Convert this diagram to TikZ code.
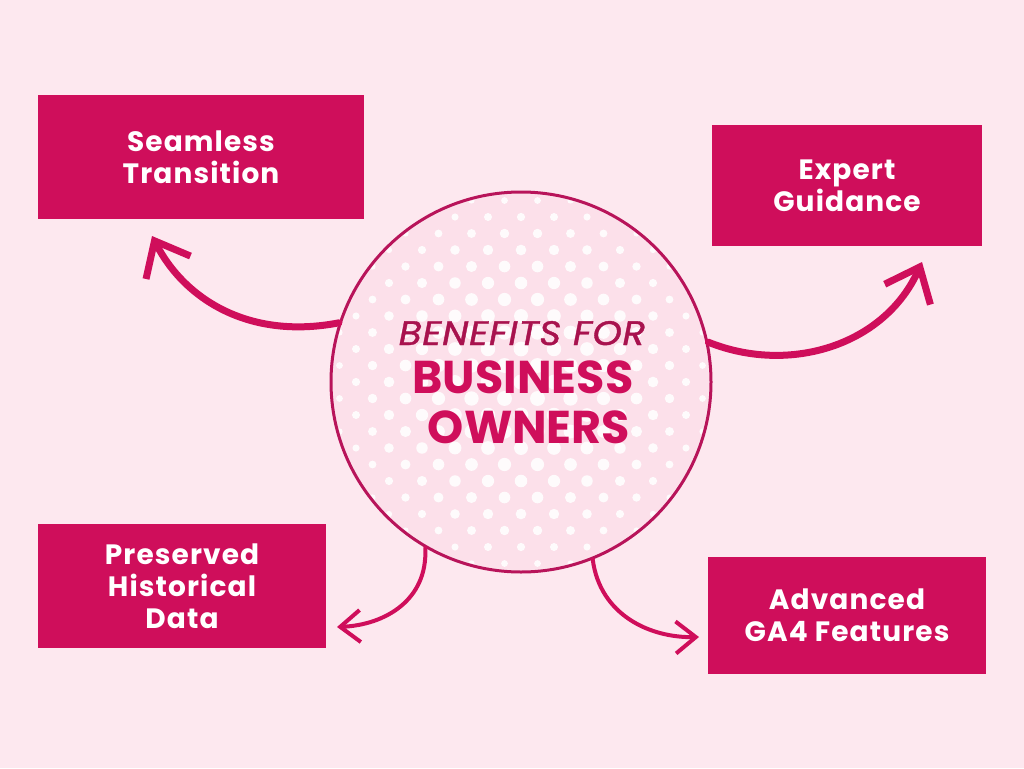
\documentclass[tikz,border=0pt]{standalone}
\usepackage{fontspec}
\setmainfont{Poppins}
\newfontfamily\boxfont{Poppins}[LetterSpace=4]
\newfontfamily\brushfont{Poppins}[FakeBold=1.2, FakeStretch=1.1, LetterSpace=2]
\usetikzlibrary{arrows.meta}

\definecolor{bgpink}{HTML}{FDE8EF}
\definecolor{dotpink}{HTML}{FCE0EA}
\definecolor{rasp}{HTML}{CF0E5B}
\definecolor{ringred}{HTML}{B8145A}
\definecolor{titlered}{HTML}{A8124E}

\tikzset{
  benefit/.style={fill=rasp, text=white, align=center, inner sep=0pt,
    font=\boxfont\bfseries\fontsize{28}{32}\selectfont},
  headline/.style={text=rasp, anchor=base, inner sep=0pt,
    font=\bfseries\fontsize{46}{50}\selectfont},
  brush/.style={draw=rasp, line width=7pt, line cap=round,
    -{Straight Barb[length=30pt,width=50pt]}},
  thinbrush/.style={brush, line width=4pt,
    -{Straight Barb[length=20pt,width=32pt]}},
}

\begin{document}
\begin{tikzpicture}[x=1pt,y=-1pt]
    \fill[bgpink] (0,0) rectangle (1024,768);
    \coordinate (mid) at (521,382);
    % halftone dots inside the ring
    \begin{scope}
      \clip (mid) circle (188pt);
      \fill[dotpink] (mid) circle (188pt);
      \foreach \i in {-12,...,12}{
        \foreach \j in {-7,...,7}{
          \pgfmathsetmacro{\dx}{33*\j + 16.5*mod(abs(\i),2)}
          \pgfmathsetmacro{\dy}{16.5*\i}
          \pgfmathsetmacro{\dd}{min(veclen(\dx/100,\dy/100)*100/190,1)}
          \pgfmathsetmacro{\rr}{3+4.5*(1-\dd*\dd)}
          \fill[white, opacity=0.9] ([shift={(\dx,\dy)}]mid) circle (\rr pt);
        }
      }
    \end{scope}
    \node[circle, draw=ringred, line width=3pt, minimum size=380pt, inner sep=0pt] (hub) at (mid) {};
    \node[anchor=base, inner sep=0pt, text=titlered,
      font=\brushfont\itshape\fontsize{34}{40}\selectfont] (title) at (522,345) {BENEFITS FOR};
    \node[headline] (business) at (523,393) {BUSINESS};
    \node[headline] (owners) at (529,443) {OWNERS};

    \node[benefit, minimum width=326pt, minimum height=124pt] (seam) at (201,157) {Seamless\\Transition};
    \node[benefit, minimum width=270pt, minimum height=121pt] (expert) at (847,185.5) {Expert\\Guidance};
    \node[benefit, minimum width=288pt, minimum height=124pt] (hist) at (182,586) {Preserved\\Historical\\Data};
    \node[benefit, minimum width=278pt, minimum height=117pt] (ga4) at (847,615.5) {Advanced\\GA4 Features};

    \coordinate (seamtip) at (152,236);
    \coordinate (experttip) at (922,262);
    \coordinate (histtip) at (337,627);
    \coordinate (ga4tip) at (699,637);
    \draw[brush] (hub.162) .. controls (250,340) and (185,300) .. (seamtip);
    \draw[brush] (hub.12) .. controls (790,375) and (885,345) .. (experttip);
    \draw[thinbrush] (hub.240) .. controls (428,600) and (385,625) .. (histtip);
    \draw[thinbrush] (hub.292) .. controls (600,615) and (650,638) .. (ga4tip);
\end{tikzpicture}
\end{document}
